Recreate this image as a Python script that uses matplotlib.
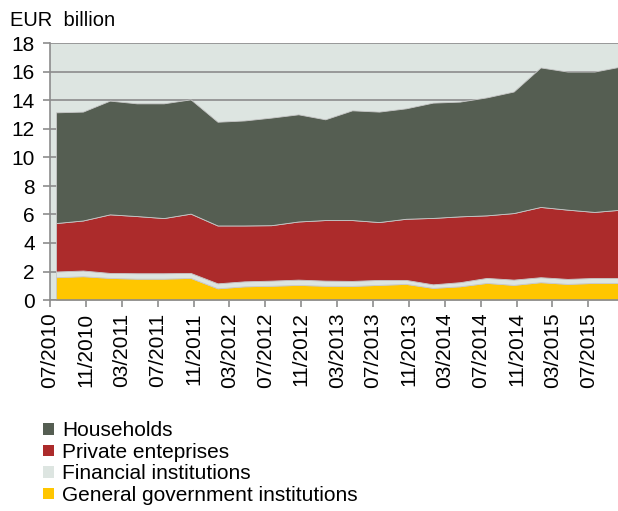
import matplotlib.pyplot as plt
import numpy as np
from matplotlib.patches import Patch

plt.rcParams['font.family'] = ['Liberation Sans', 'DejaVu Sans']

# quarterly observations, EUR billion
households = [7.77, 7.64, 7.98, 7.91, 8.05, 8.02, 7.28, 7.37, 7.55, 7.52, 7.07,
              7.70, 7.75, 7.75, 8.09, 8.05, 8.28, 8.53, 9.79, 9.69, 9.85, 10.05]
private = [3.40, 3.51, 4.11, 4.01, 3.87, 4.16, 4.06, 3.92, 3.89, 4.08, 4.25,
           4.27, 4.06, 4.29, 4.66, 4.62, 4.39, 4.67, 4.93, 4.86, 4.63, 4.79]
financial = [0.40, 0.40, 0.35, 0.38, 0.38, 0.35, 0.35, 0.35, 0.36, 0.37, 0.36,
             0.35, 0.35, 0.28, 0.25, 0.29, 0.35, 0.37, 0.35, 0.35, 0.35, 0.35]
government = [1.60, 1.67, 1.55, 1.50, 1.50, 1.55, 0.82, 0.96, 1.00, 1.06, 1.00,
              0.99, 1.06, 1.13, 0.85, 0.96, 1.20, 1.06, 1.25, 1.13, 1.20, 1.20]

tick_labels = ['07/2010', '11/2010', '03/2011', '07/2011', '11/2011', '03/2012',
               '07/2012', '11/2012', '03/2013', '07/2013', '11/2013', '03/2014',
               '07/2014', '11/2014', '03/2015', '07/2015']

names = ['General government institutions', 'Financial institutions',
         'Private enteprises', 'Households']
colors = ['#ffc600', '#dde5e1', '#ac2b2b', '#555e52']

# x in months from 07/2010
x = 0.67 + 3 * np.arange(len(households))

fig = plt.figure(figsize=(6.18, 5.11), dpi=100)
ax = fig.add_axes([50 / 618, 1 - 300 / 511, 568 / 618, (300 - 43.5) / 511])
ax.set_facecolor('#dde5e1')

ax.stackplot(x, government, financial, private, households, colors=colors,
             edgecolor='#c8c8c8', linewidth=0.6, zorder=3)

ax.set_xlim(0, 63.3)
ax.set_ylim(0, 18)
ax.set_yticks(range(0, 19, 2))
ax.yaxis.grid(True, color='#8c8c8c', linewidth=1.2, zorder=1)
ax.set_axisbelow(True)

ax.set_xticks(np.arange(len(tick_labels)) * 4)
ax.set_xticklabels(tick_labels, rotation=90)

for s in ['top', 'right']:
    ax.spines[s].set_visible(False)
for s in ['left', 'bottom']:
    ax.spines[s].set_color('#8c8c8c')
    ax.spines[s].set_linewidth(1.2)
    ax.spines[s].set_zorder(4)
ax.tick_params(axis='both', colors='#8c8c8c', width=1.2, length=5,
               labelsize=15, labelcolor='black')
ax.tick_params(axis='x', pad=4)
ax.tick_params(axis='y', pad=6)

fig.text(10 / 618, 1 - 21 / 511, 'EUR  billion', fontsize=14.5, va='center')

handles = [Patch(facecolor=c, label=n) for c, n in zip(colors[::-1], names[::-1])]
fig.legend(handles=handles, loc='upper left', bbox_to_anchor=(35 / 618, 1 - 413 / 511),
           frameon=False, fontsize=15, handlelength=0.5, handleheight=0.5,
           handletextpad=0.4, labelspacing=0.12, borderaxespad=0)

fig.savefig('out.png', dpi=100)
